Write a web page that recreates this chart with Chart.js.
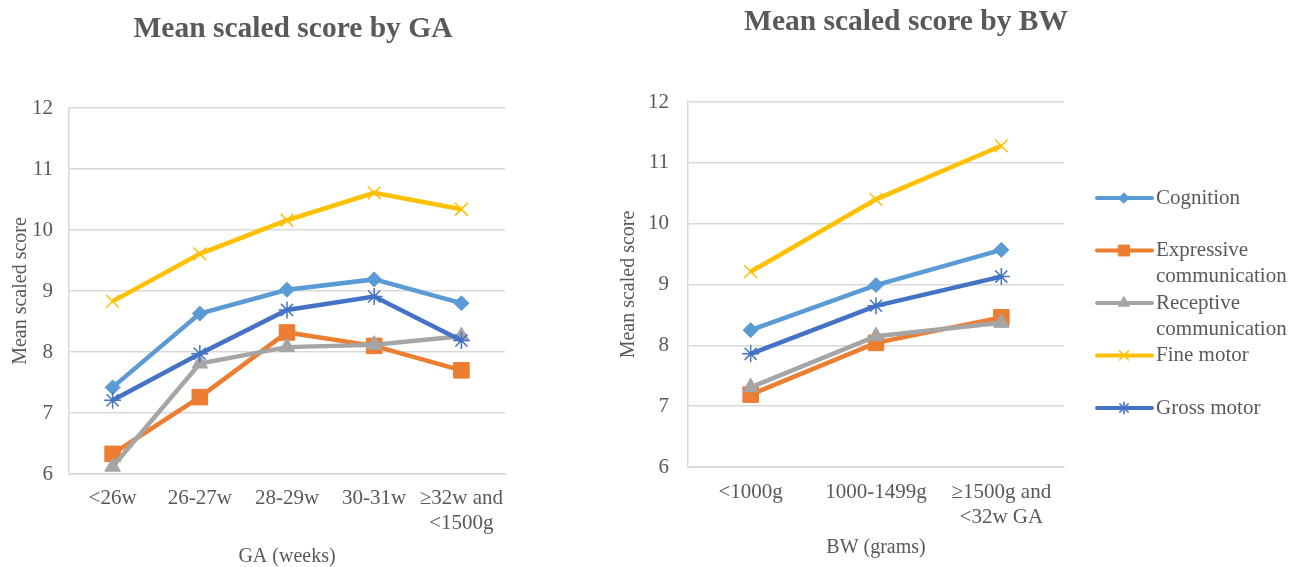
<!DOCTYPE html>
<html>
<head>
<meta charset="utf-8">
<script src="https://cdn.jsdelivr.net/npm/chart.js@4.4.0/dist/chart.umd.min.js"></script>
<style>
body { margin: 0; background: #fff; }
#wrap { position: relative; width: 1305px; height: 567px; }
#gaChart { position: absolute; left: 0; top: 0; }
#bwChart { position: absolute; left: 590px; top: 0; }
</style>
</head>
<body>
<div id="wrap">
  <canvas id="gaChart" width="580" height="567"></canvas>
  <canvas id="bwChart" width="715" height="567"></canvas>
</div>
<script>
// categories
const gaLabels = ['<26w', '26-27w', '28-29w', '30-31w', ['≥32w and', '<1500g']];
const bwLabels = ['<1000g', '1000-1499g', ['≥1500g and', '<32w GA']];
const seriesNames = ['Cognition', 'Expressive communication', 'Receptive communication', 'Fine motor', 'Gross motor'];
const yTicks = [6, 7, 8, 9, 10, 11, 12];

// mean scaled score by GA
const gaCognition = [7.42, 8.63, 9.02, 9.19, 8.80];
const gaExpressive = [6.33, 7.26, 8.32, 8.10, 7.70];
const gaReceptive = [6.12, 7.81, 8.08, 8.12, 8.26];
const gaFineMotor = [8.83, 9.61, 10.16, 10.61, 10.34];
const gaGrossMotor = [7.21, 7.97, 8.69, 8.91, 8.19];

// mean scaled score by BW
const bwCognition = [8.25, 8.99, 9.57];
const bwExpressive = [7.19, 8.04, 8.46];
const bwReceptive = [7.31, 8.15, 8.37];
const bwFineMotor = [9.21, 10.40, 11.28];
const bwGrossMotor = [7.86, 8.65, 9.13];

const serif = '"Liberation Serif", "Times New Roman", serif';
const textGrey = '#595959';
const gridGrey = '#d9d9d9';
const colors = ['#5B9BD5', '#ED7D31', '#A5A5A5', '#FFC000', '#4472C4'];
const marks = ['rectRot', 'rect', 'triangle', 'crossRot', 'star'];
const markSize = [7.5, 11, 9, 9, 8.5];
const markLine = [1, 1, 1, 1.5, 1.5];

function makeSets(values) {
  return values.map((data, i) => ({
    label: seriesNames[i],
    data: data,
    borderColor: colors[i],
    backgroundColor: colors[i],
    borderWidth: 4.5,
    pointStyle: marks[i],
    pointRadius: markSize[i],
    pointBorderWidth: markLine[i],
    pointBackgroundColor: colors[i],
    pointBorderColor: colors[i],
    order: 5 - i
  }));
}

function makeScales(o) {
  return {
    x: {
      offset: true,
      grid: { display: false, drawTicks: false },
      border: { display: true, color: gridGrey, width: 1 },
      ticks: { color: textGrey, font: { family: serif, size: 21, lineHeight: 1.2 }, padding: o.xPad, maxRotation: 0, autoSkip: false },
      title: { display: true, text: o.xTitle, color: textGrey, font: { family: serif, size: 20, lineHeight: 1 }, padding: { top: 0, bottom: o.xTitlePad } },
      afterFit(s) { s.height = o.xHeight; }
    },
    y: {
      min: yTicks[0],
      max: yTicks[yTicks.length - 1],
      afterBuildTicks(s) { s.ticks = yTicks.map(v => ({ value: v })); },
      ticks: { color: textGrey, font: { family: serif, size: 21 }, padding: o.yPad },
      grid: { color: gridGrey, lineWidth: 1.5, drawTicks: false },
      border: { display: true, color: gridGrey, width: 1.5 },
      title: { display: true, text: 'Mean scaled score', color: textGrey, font: { family: serif, size: 20, lineHeight: 1.2 }, padding: { top: o.yTitlePad, bottom: 0 } },
      afterFit(s) { s.width = o.yWidth; }
    }
  };
}

const headline = {
  id: 'headline',
  afterDraw(chart, args, opts) {
    const ctx = chart.ctx;
    ctx.save();
    ctx.font = 'bold 29.5px ' + serif;
    ctx.fillStyle = textGrey;
    ctx.textAlign = 'center';
    ctx.textBaseline = 'middle';
    ctx.fillText(opts.text, opts.x, opts.y);
    ctx.restore();
  }
};

function wrapName(name) {
  if (name.length > 14) return name.split(' ');
  return [name];
}

const sideLegend = {
  id: 'sideLegend',
  afterDraw(chart, args, opts) {
    const ctx = chart.ctx;
    chart.data.datasets.forEach((ds, i) => {
      const y = opts.top + i * opts.step;
      ctx.save();
      ctx.strokeStyle = ds.borderColor;
      ctx.fillStyle = ds.borderColor;
      ctx.lineWidth = 4;
      ctx.lineCap = 'round';
      ctx.beginPath();
      ctx.moveTo(opts.x, y);
      ctx.lineTo(opts.x + 55, y);
      ctx.stroke();
      ctx.lineWidth = ds.pointBorderWidth;
      Chart.helpers.drawPoint(ctx, { pointStyle: ds.pointStyle, radius: ds.pointRadius * 0.7, borderWidth: ds.pointBorderWidth, rotation: 0 }, opts.x + 27, y);
      ctx.font = '21px ' + serif;
      ctx.fillStyle = textGrey;
      ctx.textAlign = 'left';
      ctx.textBaseline = 'middle';
      wrapName(ds.label).forEach((line, j) => ctx.fillText(line, opts.x + 59, y + j * 26));
      ctx.restore();
    });
  }
};

Chart.defaults.font.family = serif;

new Chart(document.getElementById('gaChart'), {
  type: 'line',
  data: {
    labels: gaLabels,
    datasets: makeSets([gaCognition, gaExpressive, gaReceptive, gaFineMotor, gaGrossMotor])
  },
  options: {
    responsive: false,
    animation: false,
    devicePixelRatio: 1,
    layout: { padding: { top: 108, right: 75, left: 0, bottom: 0 } },
    scales: makeScales({ xTitle: 'GA (weeks)', xPad: 12, xTitlePad: 0, xHeight: 93, yPad: 16, yTitlePad: 9, yWidth: 69 }),
    plugins: {
      legend: { display: false },
      tooltip: { enabled: false },
      headline: { text: 'Mean scaled score by GA', x: 293, y: 29 }
    }
  },
  plugins: [headline]
});

new Chart(document.getElementById('bwChart'), {
  type: 'line',
  data: {
    labels: bwLabels,
    datasets: makeSets([bwCognition, bwExpressive, bwReceptive, bwFineMotor, bwGrossMotor])
  },
  options: {
    responsive: false,
    animation: false,
    devicePixelRatio: 1,
    layout: { padding: { top: 102, right: 241, left: 0, bottom: 0 } },
    scales: makeScales({ xTitle: 'BW (grams)', xPad: 13, xTitlePad: 9, xHeight: 100, yPad: 19, yTitlePad: 27, yWidth: 98 }),
    plugins: {
      legend: { display: false },
      tooltip: { enabled: false },
      headline: { text: 'Mean scaled score by BW', x: 316, y: 22 },
      sideLegend: { x: 507, top: 198, step: 52.5 }
    }
  },
  plugins: [headline, sideLegend]
});
</script>
</body>
</html>
